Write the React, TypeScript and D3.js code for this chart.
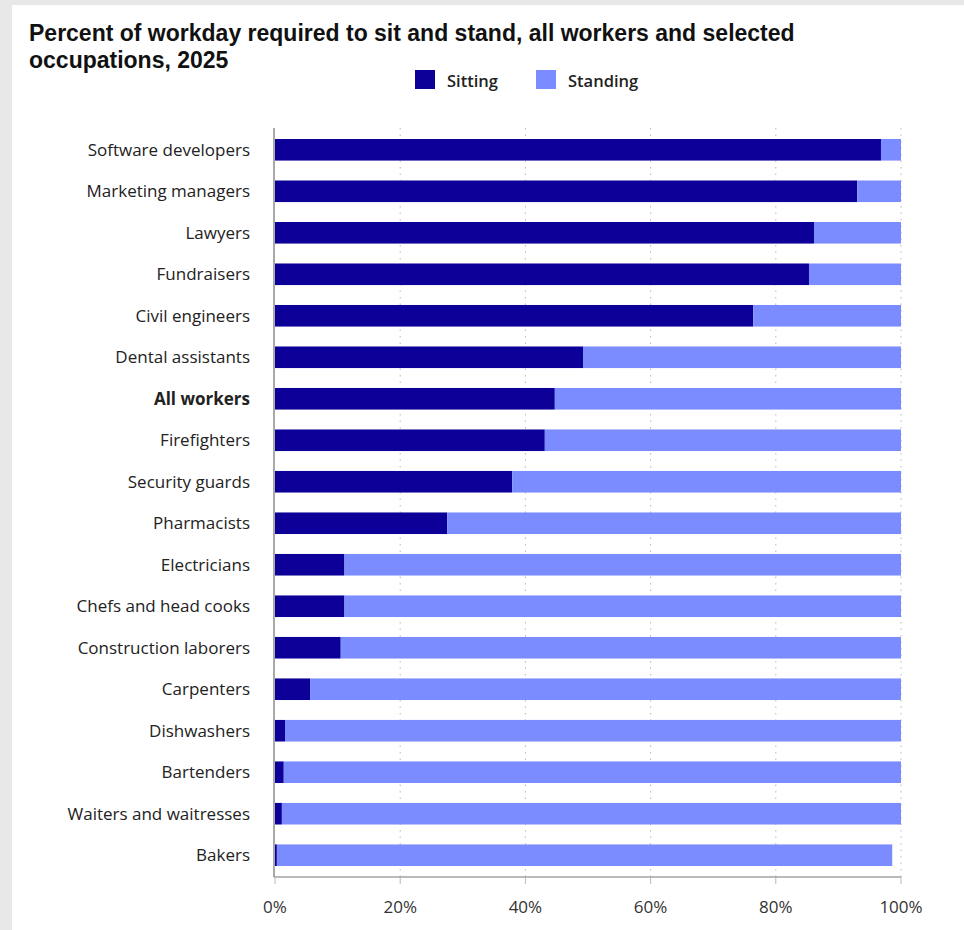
import React from "react";
import * as d3 from "d3";

const categories = [
  "Software developers",
  "Marketing managers",
  "Lawyers",
  "Fundraisers",
  "Civil engineers",
  "Dental assistants",
  "All workers",
  "Firefighters",
  "Security guards",
  "Pharmacists",
  "Electricians",
  "Chefs and head cooks",
  "Construction laborers",
  "Carpenters",
  "Dishwashers",
  "Bartenders",
  "Waiters and waitresses",
  "Bakers",
];

const sitting = [96.8, 93.0, 86.1, 85.3, 76.4, 49.2, 44.7, 43.1, 37.9, 27.5, 11.1, 11.1, 10.5, 5.6, 1.6, 1.4, 1.1, 0.3];
const standing = [3.2, 7.0, 13.9, 14.7, 23.6, 50.8, 55.3, 56.9, 62.1, 72.5, 88.9, 88.9, 89.5, 94.4, 98.4, 98.6, 98.9, 98.3];

const xTicks = [0, 20, 40, 60, 80, 100];
const seriesNames = ["Sitting", "Standing"];
const colors = ["#0c0098", "#7a8cff"];

const W = 964;
const H = 930;
const plotLeft = 275;
const plotRight = 901;
const plotTop = 128;
const plotBottom = 877;

export default function App() {
  const x = d3.scaleLinear().domain([0, 100]).range([plotLeft, plotRight]);
  const y = d3
    .scaleBand<string>()
    .domain(categories)
    .range([plotTop, plotBottom])
    .paddingInner(0.48)
    .paddingOuter(0.265);
  const bw = y.bandwidth();
  const labelFont = "'Open Sans', 'DejaVu Sans', sans-serif";
  const legendX = [415, 536];

  return (
    <div style={{ position: "absolute", left: 0, top: 0, width: W, height: H }}>
      <svg width={W} height={H} style={{ display: "block" }}>
        <rect x={0} y={0} width={W} height={H} fill="#e8e8e8" />
        <rect x={12} y={5} width={W - 12} height={H - 5} fill="#ffffff" />
        <text
          x={29}
          y={41}
          fontFamily="'Liberation Sans', Arial, sans-serif"
          fontWeight="bold"
          fontSize={23}
          fill="#111"
        >
          <tspan x={29} dy={0}>Percent of workday required to sit and stand, all workers and selected</tspan>
          <tspan x={29} dy={26.5}>occupations, 2025</tspan>
        </text>

        {/* legend */}
        {seriesNames.map((s, i) => {
          const lx = legendX[i];
          return (
            <g key={s}>
              <rect x={lx} y={70} width={20} height={19} fill={colors[i]} />
              <text x={lx + 32} y={87} fontFamily={labelFont} fontSize={16.5} fontWeight={600} fill="#222">
                {s}
              </text>
            </g>
          );
        })}

        {/* gridlines */}
        {xTicks.slice(1).map((t) => (
          <line
            key={t}
            x1={x(t)}
            x2={x(t)}
            y1={plotTop}
            y2={plotBottom}
            stroke="#b8b8b8"
            strokeWidth={1}
            strokeDasharray="1.5,5"
          />
        ))}

        {/* bars */}
        {categories.map((c, i) => (
          <g key={c}>
            <rect x={x(0)} y={y(c)} width={x(sitting[i]) - x(0)} height={bw} fill={colors[0]} />
            <rect
              x={x(sitting[i])}
              y={y(c)}
              width={x(sitting[i] + standing[i]) - x(sitting[i])}
              height={bw}
              fill={colors[1]}
            />
          </g>
        ))}

        {/* category labels */}
        {categories.map((c) => (
          <text
            key={c}
            x={250}
            y={(y(c) as number) + bw / 2}
            dy="0.36em"
            textAnchor="end"
            fontFamily={labelFont}
            fontSize={17}
            fontWeight={c === "All workers" ? "bold" : "normal"}
            fill="#222"
          >
            {c}
          </text>
        ))}

        {/* axes */}
        <line x1={plotLeft - 1} x2={plotLeft - 1} y1={plotTop} y2={plotBottom} stroke="#8c8c8c" strokeWidth={1.5} />
        <line x1={plotLeft - 1} x2={plotRight} y1={plotBottom} y2={plotBottom} stroke="#777" strokeWidth={1.2} />
        {xTicks.map((t) => (
          <g key={t}>
            <line x1={x(t)} x2={x(t)} y1={plotBottom} y2={plotBottom + 7} stroke="#b0b8c8" strokeWidth={1} />
            <text
              x={x(t)}
              y={913}
              textAnchor="middle"
              fontFamily={labelFont}
              fontSize={17}
              fill="#333"
            >
              {t}%
            </text>
          </g>
        ))}
      </svg>
    </div>
  );
}
